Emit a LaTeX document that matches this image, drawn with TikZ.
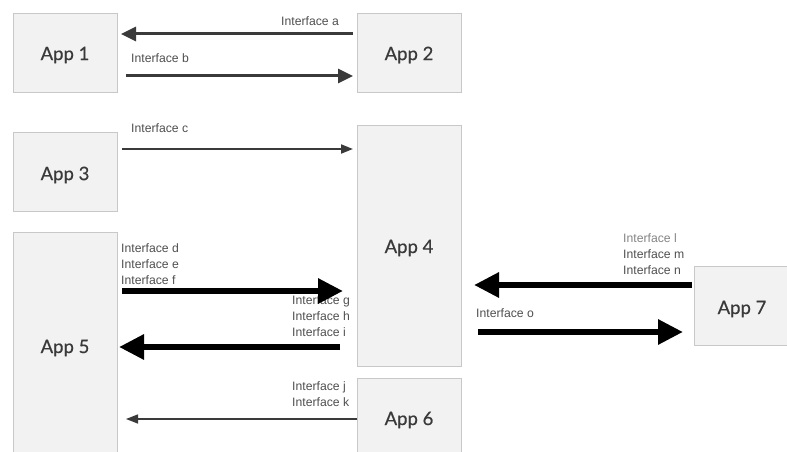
\documentclass[tikz,border=0pt]{standalone}
\usepackage{fontspec}
\setmainfont{Liberation Sans}
\newfontfamily\appfont[FakeBold=0.5]{Lato}
\usetikzlibrary{arrows.meta,calc}
\definecolor{boxfill}{HTML}{F2F2F2}
\definecolor{boxline}{HTML}{C8C8C8}
\definecolor{apptext}{HTML}{3A3A3A}
\definecolor{iftext}{HTML}{505050}
\definecolor{midarrow}{HTML}{3A3A3A}
\tikzset{
  appbox/.style={draw=boxline, line width=1pt, fill=boxfill, anchor=north west, inner sep=0pt},
  applabel/.style={text=apptext, font=\appfont\fontsize{18.5}{20}\selectfont, inner sep=0pt},
  iflabel/.style={text=iftext, font=\fontsize{12.2}{16}\selectfont, inner sep=0pt, anchor=base west},
  medarrow/.style={draw=midarrow, line width=3pt, -{Triangle[length=15pt,width=14pt]}},
  thinarrow/.style={draw=midarrow, line width=1.8pt, -{Triangle[length=12pt,width=9pt]}},
  finearrow/.style={draw=midarrow, line width=1.4pt, -{Triangle[length=12pt,width=9pt]}},
  bigarrow/.style={draw=black, line width=6pt, -{Triangle[length=25pt,width=24pt]}},
}
\begin{document}
\begin{tikzpicture}[x=1pt,y=-1pt]
\clip (0,0) rectangle (787,452);
\fill[white] (0,0) rectangle (787,452);
% boxes
\node[appbox, minimum width=104pt, minimum height=79pt] (app1) at (13,13) {};
\node[appbox, minimum width=104pt, minimum height=79pt] (app2) at (357,13) {};
\node[appbox, minimum width=104pt, minimum height=79pt] (app3) at (13,132) {};
\node[appbox, minimum width=104pt, minimum height=241pt] (app4) at (357,125) {};
\node[appbox, minimum width=104pt, minimum height=240pt] (app5) at (13,232) {};
\node[appbox, minimum width=104pt, minimum height=100pt] (app6) at (357,378) {};
\node[appbox, minimum width=100pt, minimum height=79pt] (app7) at (694,266) {};
% box labels
\node[applabel] (l1) at (65,55) {App 1};
\node[applabel] (l2) at (409,55) {App 2};
\node[applabel] (l3) at (65,175) {App 3};
\node[applabel] (l4) at (409,248) {App 4};
\node[applabel] (l5) at (65,348) {App 5};
\node[applabel] (l6) at (409,420) {App 6};
\node[applabel] (l7) at (742,309) {App 7};
% interface labels
\node[iflabel] (ta) at (281,26) {Interface a};
\node[iflabel] (tb) at (131,63) {Interface b};
\node[iflabel] (tc) at (131,132) {Interface c};
\node[iflabel] (td) at (121,252) {Interface d};
\node[iflabel] (te) at (121,268) {Interface e};
\node[iflabel] (tf) at (121,284) {Interface f};
\node[iflabel] (tg) at (292,304) {Interface g};
\node[iflabel] (th) at (292,320) {Interface h};
\node[iflabel] (ti) at (292,336) {Interface i};
\node[iflabel] (tj) at (292,390) {Interface j};
\node[iflabel] (tk) at (292,406) {Interface k};
\node[iflabel, text=iftext!70] (tl) at (623,242) {Interface l};
\node[iflabel] (tm) at (623,258) {Interface m};
\node[iflabel] (tn) at (623,274) {Interface n};
\node[iflabel] (to) at (476,317) {Interface o};
% connectors
\draw[medarrow] ($(app2.north west)+(-4,21)$) -- ($(app1.north east)+(3,21)$);
\draw[medarrow] ($(app1.north east)+(8,63)$) -- ($(app2.north west)+(-4,63)$);
\draw[thinarrow] ($(app3.north east)+(4,17)$) -- ($(app4.north west)+(-4,24)$);
\draw[bigarrow] ($(app5.north east)+(4,59)$) -- ($(app4.north west)+(-14,166)$);
\draw[bigarrow] ($(app4.north west)+(-17,222)$) -- ($(app5.north east)+(1,115)$);
\draw[finearrow] ($(app6.north west)+(0,41)$) -- ($(app5.north east)+(8,187)$);
\draw[bigarrow] ($(app7.north west)+(-2,19)$) -- ($(app4.north east)+(12,160)$);
\draw[bigarrow] ($(app4.north east)+(16,207)$) -- ($(app7.north west)+(-11,66)$);
\end{tikzpicture}
\end{document}
